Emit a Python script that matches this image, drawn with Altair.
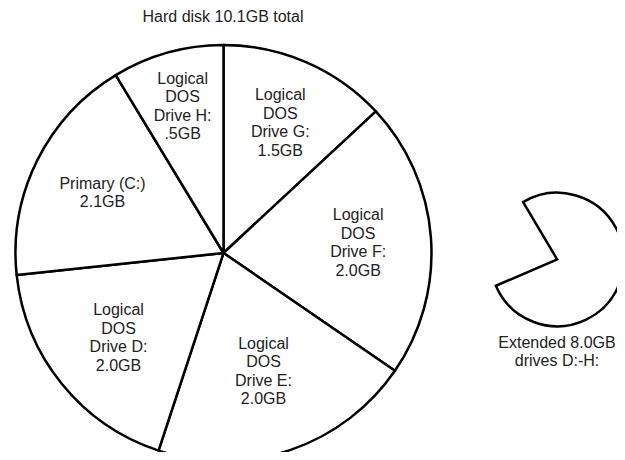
import math
import altair as alt
import pandas as pd

# ---- data ----
title_text = "Hard disk 10.1GB total"
drives = ["G", "F", "E", "D", "C", "H"]
labels = [
    "Logical\nDOS\nDrive G:\n1.5GB",
    "Logical\nDOS\nDrive F:\n2.0GB",
    "Logical\nDOS\nDrive E:\n2.0GB",
    "Logical\nDOS\nDrive D:\n2.0GB",
    "\nPrimary (C:)\n2.1GB\n",
    "Logical\nDOS\nDrive H:\n.5GB",
]
drawn_angle = [47.1, 77.4, 73.7, 65.7, 64.9, 31.2]  # slice spans as drawn (degrees)

ext_parts = ["Extended", "gap"]
ext_angle = [277.5, 82.5]
ext_label = "Extended 8.0GB\ndrives D:-H:"
ext_start_deg = 329.3

FONT = "Liberation Sans"
TXT = "#222222"
LH = 18.5

pie_df = pd.DataFrame({"drive": drives, "label": labels, "angle": drawn_angle,
                       "order": list(range(len(drives)))})
ext_df = pd.DataFrame({"part": ext_parts, "angle": ext_angle,
                       "order": list(range(len(ext_parts)))})

cx, cy, R = 215.5, 245, 208
ex, ey, ER = 549.2, 251.5, 66.7

base = alt.Chart(pie_df).encode(
    theta=alt.Theta("angle:Q", stack=True),
    order=alt.Order("order:Q"),
)
arcs = base.mark_arc(radius=R, fill="white", stroke="black", strokeWidth=2.5,
                     strokeJoin="round").encode(x=alt.value(cx), y=alt.value(cy))


def label_layer(sel, radius):
    return base.mark_text(radius=radius, lineBreak="\n", font=FONT, fontSize=16,
                          fill=TXT, lineHeight=LH, baseline="middle",
                          dy=-1.5 * LH).encode(
        text=alt.condition(sel, "label:N", alt.value("")),
        x=alt.value(cx), y=alt.value(cy))


texts_h = label_layer(alt.datum.drive == "H", 152)
texts_g = label_layer(alt.datum.drive == "G", 142)
texts_e = label_layer(alt.datum.drive == "E", 125)
texts_o = label_layer((alt.datum.drive == "F") | (alt.datum.drive == "D")
                      | (alt.datum.drive == "C"), 135)

s = math.radians(ext_start_deg)
ext = alt.Chart(ext_df).mark_arc(radius=ER, fill="white", stroke="black",
                                 strokeWidth=2.5).encode(
    theta=alt.Theta("angle:Q", stack=True,
                    scale=alt.Scale(range=[s, s + 2 * math.pi])),
    order=alt.Order("order:Q"),
    opacity=alt.Opacity("part:N", scale=alt.Scale(domain=ext_parts, range=[1, 0]),
                        legend=None),
    x=alt.value(ex), y=alt.value(ey),
)

title_df = pd.DataFrame({"t": [title_text]})
title = alt.Chart(title_df).mark_text(font=FONT, fontSize=16, fill=TXT,
                                      baseline="alphabetic").encode(
    text="t:N", x=alt.value(215), y=alt.value(14.3))

ext_df2 = pd.DataFrame({"t": [ext_label]})
ext_text = alt.Chart(ext_df2).mark_text(font=FONT, fontSize=16, fill=TXT,
                                        lineBreak="\n", lineHeight=LH,
                                        baseline="middle", dy=-0.5 * LH).encode(
    text="t:N", x=alt.value(549), y=alt.value(344))

chart = alt.layer(arcs, texts_h, texts_g, texts_e, texts_o, ext, title,
                  ext_text).resolve_scale(
    theta="independent"
).properties(
    width=609, height=444, padding=0, autosize="none", background="white"
).configure_view(stroke=None)

chart.save("out.html", embed_options={"renderer": "svg", "actions": False})
